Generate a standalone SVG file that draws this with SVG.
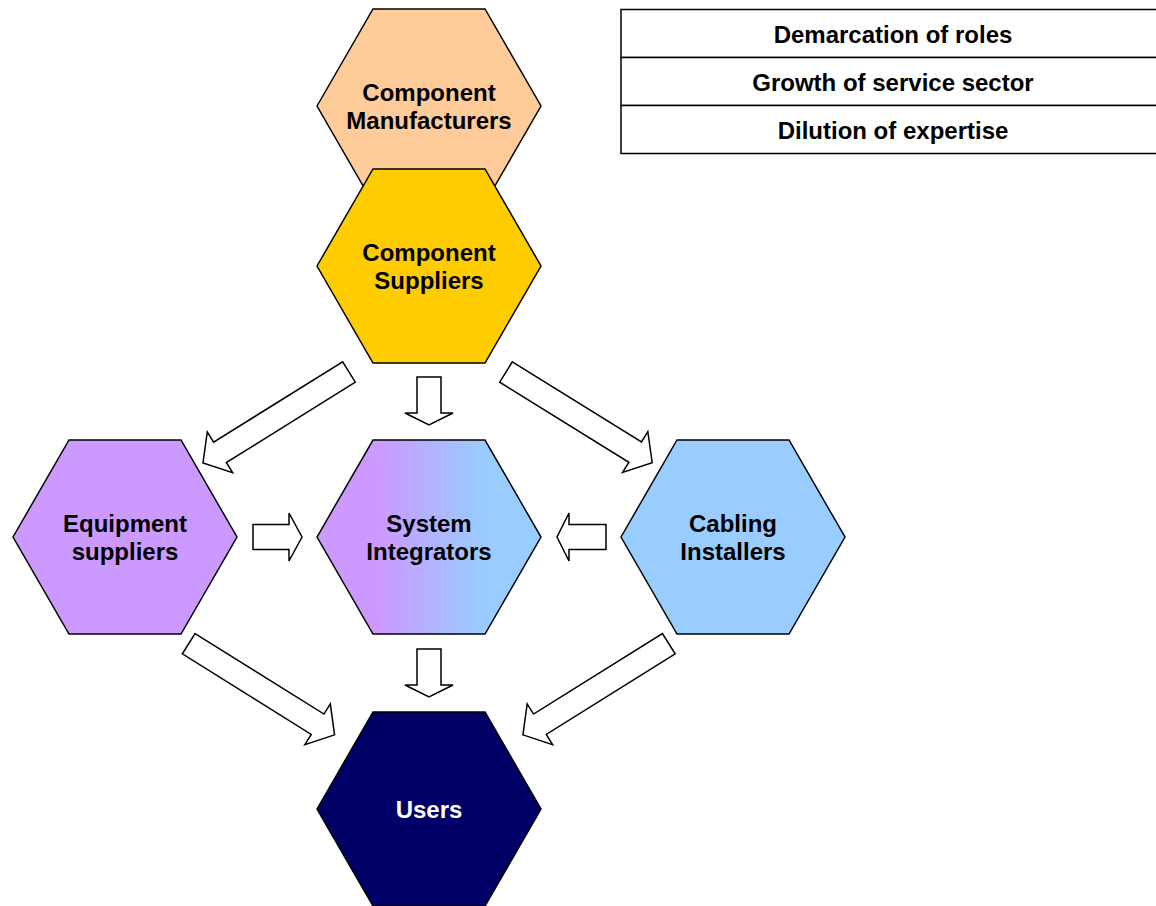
<svg xmlns="http://www.w3.org/2000/svg" xmlns:xlink="http://www.w3.org/1999/xlink" width="1156" height="906" viewBox="0 0 1156 906">
<style>
.hex{stroke:#000;stroke-width:1.5;stroke-linejoin:miter}
.arr{fill:#fff;stroke:#000;stroke-width:1.5;stroke-linejoin:miter}
.lbl{font-family:"Liberation Sans",Arial,sans-serif;font-weight:bold;font-size:24px;text-anchor:middle;fill:#000}
.tbl{fill:#fff;stroke:#000;stroke-width:1.5}
</style>
<defs>
<linearGradient id="siGrad" x1="0" y1="0" x2="1" y2="0">
<stop offset="0.28" stop-color="#CC99FF"/>
<stop offset="0.74" stop-color="#99CCFF"/>
</linearGradient>
<polygon id="hexShape" points="-112,0 -56,-97 56,-97 112,0 56,97 -56,97"/>
<path id="diagArrow" d="M0,-12 L152,-12 L152,-24 L172,0 L152,24 L152,12 L0,12 Z"/>
</defs>
<rect width="1156" height="906" fill="#fff"/>

<g id="table">
<rect class="tbl" x="621" y="9.5" width="545" height="48"/>
<rect class="tbl" x="621" y="57.5" width="545" height="48"/>
<rect class="tbl" x="621" y="105.5" width="545" height="48"/>
<text class="lbl" x="893" y="42.5">Demarcation of roles</text>
<text class="lbl" x="893" y="90.5">Growth of service sector</text>
<text class="lbl" x="893" y="138.5">Dilution of expertise</text>
</g>

<g id="component-manufacturers">
<use xlink:href="#hexShape" class="hex" fill="#FFCC99" transform="translate(429,106)"/>
<text class="lbl" x="429" y="101">Component</text>
<text class="lbl" x="429" y="129">Manufacturers</text>
</g>

<g id="component-suppliers">
<use xlink:href="#hexShape" class="hex" fill="#FFCC00" transform="translate(429,266)"/>
<text class="lbl" x="429" y="261">Component</text>
<text class="lbl" x="429" y="289">Suppliers</text>
</g>

<g id="equipment-suppliers">
<use xlink:href="#hexShape" class="hex" fill="#CC99FF" transform="translate(125,537)"/>
<text class="lbl" x="125" y="532">Equipment</text>
<text class="lbl" x="125" y="560">suppliers</text>
</g>

<g id="system-integrators">
<polygon class="hex" fill="url(#siGrad)" points="317,537 373,440 485,440 541,537 485,634 373,634"/>
<text class="lbl" x="429" y="532">System</text>
<text class="lbl" x="429" y="560">Integrators</text>
</g>

<g id="cabling-installers">
<use xlink:href="#hexShape" class="hex" fill="#99CCFF" transform="translate(733,537)"/>
<text class="lbl" x="733" y="532">Cabling</text>
<text class="lbl" x="733" y="560">Installers</text>
</g>

<g id="users">
<use xlink:href="#hexShape" class="hex" fill="#000066" transform="translate(429,809)"/>
<text class="lbl" x="429" y="818" style="fill:#fff">Users</text>
</g>

<g id="connectors">
<polygon class="arr" points="417,377 441,377 441,413 453,413 429,425 405,413 417,413"/>
<polygon class="arr" points="417,649 441,649 441,685 453,685 429,697 405,685 417,685"/>
<polygon class="arr" points="253,524.5 289,524.5 289,513 302,537 289,561 289,549.5 253,549.5"/>
<polygon class="arr" points="606,524.5 569,524.5 569,513 557,537 569,561 569,549.5 606,549.5"/>
<use xlink:href="#diagArrow" class="arr" transform="translate(349,372) rotate(148.1)"/>
<use xlink:href="#diagArrow" class="arr" transform="translate(506,372) rotate(31.8)"/>
<use xlink:href="#diagArrow" class="arr" transform="translate(188.7,643.7) rotate(32)"/>
<use xlink:href="#diagArrow" class="arr" transform="translate(668.8,643.7) rotate(148)"/>
</g>
</svg>
